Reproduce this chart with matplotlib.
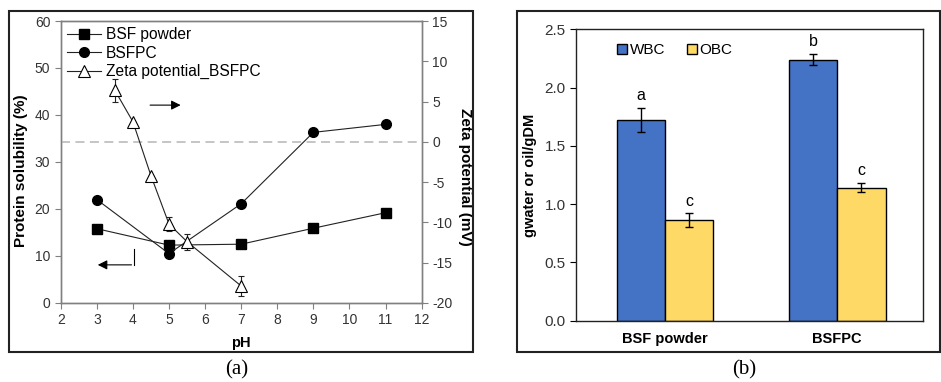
import matplotlib.pyplot as plt
import matplotlib.patches as mpatches
from matplotlib.lines import Line2D
import numpy as np

plt.rcParams['font.family'] = ['Liberation Sans', 'DejaVu Sans']

# panel (a): protein solubility and zeta potential
ph = [3, 5, 7, 9, 11]
sol_powder = [15.8, 12.3, 12.5, 15.9, 19.2]
sol_bsfpc = [22.0, 10.5, 21.1, 36.3, 38.0]
ph_zeta = [3.5, 4, 4.5, 5, 5.5, 7]
zeta = [6.4, 2.5, -4.2, -10.2, -12.4, -17.9]
zeta_err = [1.4, 0.0, 0.0, 0.9, 1.0, 1.2]

# panel (b): water / oil binding capacity
samples = ['BSF powder', 'BSFPC']
wbc = [1.72, 2.24]
wbc_err = [0.105, 0.05]
obc = [0.86, 1.14]
obc_err = [0.06, 0.04]
wbc_letters = ['a', 'b']
obc_letters = ['c', 'c']

fig = plt.figure(figsize=(9.41, 3.82), dpi=100)

# panel frames
for x0, x1 in [(0.0096, 0.5027), (0.5494, 0.999)]:
    fig.add_artist(mpatches.Rectangle((x0, 0.0785), x1 - x0, 0.894, transform=fig.transFigure,
                                      fill=False, edgecolor='#222222', lw=1.5))

gray = '#808080'
ax1 = fig.add_axes([0.0645, 0.207, 0.3836, 0.738])
ax2 = ax1.twinx()

ax1.plot(ph, sol_powder, color='#222222', lw=0.8, marker='s', ms=6.5, mfc='black', mec='black')
ax1.plot(ph, sol_bsfpc, color='#222222', lw=0.8, marker='o', ms=7, mfc='black', mec='black')
ax2.errorbar(ph_zeta, zeta, yerr=zeta_err, color='#222222', lw=0.8, marker='^', ms=9,
             mfc='white', mec='black', mew=0.8, capsize=2.5, elinewidth=0.8, zorder=3)
ax2.axhline(0, color='#c0c0c0', ls=(0, (5, 3)), lw=1.3, zorder=1)

ax1.set_xlim(2, 12)
ax1.set_ylim(0, 60)
ax2.set_ylim(-20, 15)
ax1.set_xticks(range(2, 13))
ax1.set_yticks(range(0, 61, 10))
ax2.set_yticks(range(-20, 16, 5))
ax2.set_yticklabels([str(v) for v in range(-20, 16, 5)])
for ax in (ax1, ax2):
    for s in ax.spines.values():
        s.set_color(gray)
        s.set_linewidth(1.0)
    ax.tick_params(direction='out', length=4, color=gray, labelsize=10, labelcolor='#333333')
ax1.set_xlabel('pH', fontsize=10.5, fontweight='bold', labelpad=6)
ax1.set_ylabel('Protein solubility (%)', fontsize=11, fontweight='bold')
ax1.yaxis.set_label_coords(-0.09, 0.468)
ax2.set_ylabel('Zeta potential (mV)', fontsize=11, fontweight='bold', rotation=270, va='bottom')
ax2.yaxis.set_label_coords(1.10, 0.447)

# direction arrows
ax1.annotate('', xy=(5.4, 42.1), xytext=(4.4, 42.1),
             arrowprops=dict(arrowstyle='-|>', color='black', lw=0.8, mutation_scale=14))
ax1.plot([4.04, 4.04], [11.4, 8.1], color='black', lw=0.8)
ax1.annotate('', xy=(2.95, 8.1), xytext=(4.04, 8.1),
             arrowprops=dict(arrowstyle='-|>', color='black', lw=0.8, mutation_scale=14))

handles = [Line2D([], [], color='#222222', lw=0.8, marker='s', ms=6.5, mfc='black', mec='black'),
           Line2D([], [], color='#222222', lw=0.8, marker='o', ms=7, mfc='black', mec='black'),
           Line2D([], [], color='#222222', lw=0.8, marker='^', ms=9, mfc='white', mec='black', mew=0.8)]
ax1.legend(handles, ['BSF powder', 'BSFPC', 'Zeta potential_BSFPC'], loc='upper left',
           frameon=False, fontsize=11.2, handlelength=2.2, handletextpad=0.3,
           borderaxespad=0.0, labelspacing=0.22)

fig.text(0.252, 0.032, '(a)', family='Liberation Serif', fontsize=15, ha='center', va='center')

# panel (b)
ax3 = fig.add_axes([0.6121, 0.1605, 0.3685, 0.7628])
x = np.arange(len(samples))
w = 0.28
ax3.bar(x - w / 2, wbc, w, color='#4472C4', edgecolor='black', lw=1.0, label='WBC')
ax3.bar(x + w / 2, obc, w, color='#FFD966', edgecolor='black', lw=1.0, label='OBC')
ax3.errorbar(x - w / 2, wbc, yerr=wbc_err, fmt='none', ecolor='black', capsize=3, elinewidth=1.0)
ax3.errorbar(x + w / 2, obc, yerr=obc_err, fmt='none', ecolor='black', capsize=3, elinewidth=1.0)
for i in range(len(samples)):
    ax3.text(x[i] - w / 2, wbc[i] + wbc_err[i] + 0.04, wbc_letters[i], ha='center', va='bottom', fontsize=11.5)
    ax3.text(x[i] + w / 2, obc[i] + obc_err[i] + 0.04, obc_letters[i], ha='center', va='bottom', fontsize=11.5)
ax3.set_xlim(-0.517, 1.496)
ax3.set_ylim(0, 2.5)
ax3.set_yticks(np.arange(0, 2.51, 0.5))
ax3.set_yticklabels([f'{v:.1f}' for v in np.arange(0, 2.51, 0.5)])
ax3.set_xticks(x)
ax3.set_xticklabels(samples, fontweight='bold', fontsize=10.5)
ax3.tick_params(axis='x', length=0, pad=8)
ax3.tick_params(axis='y', direction='out', length=4, labelsize=11, labelcolor='#333333')
for s in ax3.spines.values():
    s.set_color('#222222')
    s.set_linewidth(1.0)
ax3.set_ylabel('gwater or oil/gDM', fontsize=10.5, fontweight='bold', labelpad=5)
ax3.legend(loc='upper left', ncol=2, frameon=False, fontsize=11, handlelength=0.65, handleheight=0.65,
           handletextpad=0.15, columnspacing=1.4, bbox_to_anchor=(0.08, 1.0))

fig.text(0.791, 0.032, '(b)', family='Liberation Serif', fontsize=15, ha='center', va='center')

fig.savefig('out.png', dpi=100)
